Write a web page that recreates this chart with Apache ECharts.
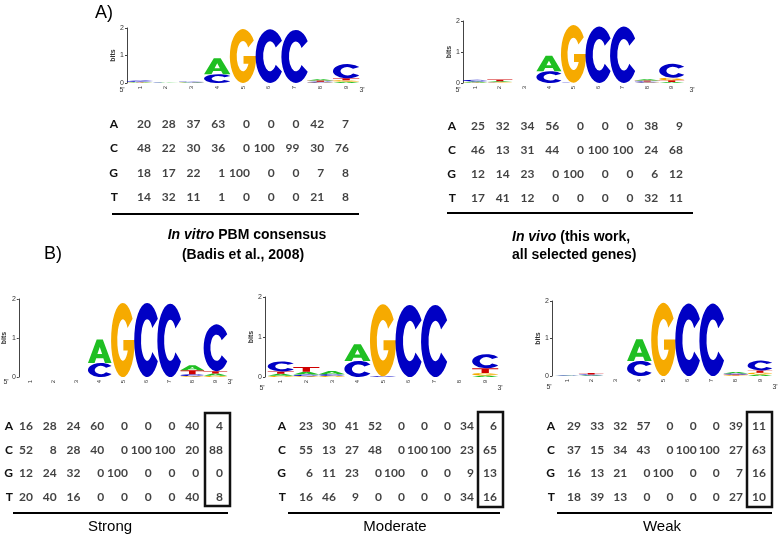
<!DOCTYPE html>
<html>
<head>
<meta charset="utf-8">
<style>
    html, body { margin: 0; padding: 0; background: #fff; }
    #chart { width: 779px; height: 535px; }
</style>
<script src="https://cdn.jsdelivr.net/npm/echarts@6/dist/echarts.min.js"></script>
</head>
<body>
<div id="chart"></div>
<script>
// motif positions and bases (rows of every table)
const positions = ['1', '2', '3', '4', '5', '6', '7', '8', '9'];
const bases = ['A', 'C', 'G', 'T'];

// base frequencies (%), rows A, C, G, T
const vitroTable = [
    [20, 28, 37, 63, 0, 0, 0, 42, 7],
    [48, 22, 30, 36, 0, 100, 99, 30, 76],
    [18, 17, 22, 1, 100, 0, 0, 7, 8],
    [14, 32, 11, 1, 0, 0, 0, 21, 8]
];
const vivoTable = [
    [25, 32, 34, 56, 0, 0, 0, 38, 9],
    [46, 13, 31, 44, 0, 100, 100, 24, 68],
    [12, 14, 23, 0, 100, 0, 0, 6, 12],
    [17, 41, 12, 0, 0, 0, 0, 32, 11]
];
const strongTable = [
    [16, 28, 24, 60, 0, 0, 0, 40, 4],
    [52, 8, 28, 40, 0, 100, 100, 20, 88],
    [12, 24, 32, 0, 100, 0, 0, 0, 0],
    [20, 40, 16, 0, 0, 0, 0, 40, 8]
];
const moderateTable = [
    [23, 30, 41, 52, 0, 0, 0, 34, 6],
    [55, 13, 27, 48, 0, 100, 100, 23, 65],
    [6, 11, 23, 0, 100, 0, 0, 9, 13],
    [16, 46, 9, 0, 0, 0, 0, 34, 16]
];
const weakTable = [
    [29, 33, 32, 57, 0, 0, 0, 39, 11],
    [37, 15, 34, 43, 0, 100, 100, 27, 63],
    [16, 13, 21, 0, 100, 0, 0, 7, 16],
    [18, 39, 13, 0, 0, 0, 0, 27, 10]
];

const vitroBits = [
    [0.02, 0.01, 0.02, 0.58, 0, 0, 0, 0.05, 0.05],
    [0.05, 0.01, 0.02, 0.32, 0, 1.95, 1.93, 0.03, 0.52],
    [0.01, 0, 0.01, 0, 1.96, 0, 0, 0.02, 0.05],
    [0.01, 0, 0, 0, 0, 0, 0, 0.04, 0.07]
];
const vivoBits = [
    [0.03, 0.03, 0, 0.5, 0, 0, 0, 0.04, 0.03],
    [0.05, 0.01, 0, 0.38, 0.01, 1.82, 1.82, 0.03, 0.45],
    [0.01, 0.02, 0, 0, 1.86, 0, 0, 0.02, 0.08],
    [0.01, 0.05, 0, 0, 0, 0, 0, 0.03, 0.06]
];
const strongBits = [
    [0, 0, 0, 0.6, 0, 0, 0, 0.13, 0.06],
    [0, 0, 0, 0.36, 0, 1.9, 1.88, 0.05, 1.2],
    [0, 0, 0, 0, 1.9, 0, 0, 0.02, 0.03],
    [0, 0, 0, 0, 0, 0, 0, 0.1, 0.06]
];
const moderateBits = [
    [0.05, 0.07, 0.08, 0.42, 0, 0, 0, 0, 0.04],
    [0.25, 0.04, 0.04, 0.4, 0.02, 1.8, 1.8, 0, 0.35],
    [0.03, 0.02, 0.03, 0, 1.8, 0, 0, 0, 0.06],
    [0.06, 0.12, 0, 0, 0, 0, 0, 0, 0.12]
];
const weakBits = [
    [0.01, 0.02, 0, 0.58, 0, 0, 0, 0.04, 0.04],
    [0.01, 0.02, 0, 0.4, 0, 1.93, 1.93, 0.03, 0.26],
    [0, 0, 0, 0, 1.95, 0, 0, 0.02, 0.05],
    [0, 0.04, 0, 0, 0, 0, 0, 0.02, 0.06]
];

const COLORS = {A: '#1fbf22', C: '#0000c4', G: '#f6aa00', T: '#d00000'};
// letter outlines in a 100x100 box, stretched to each stack slot
const LETTERS = {
    A: 'M0 100 L37 0 L63 0 L100 100 L72 100 L65 80 L35 80 L28 100 Z M40 62 L60 62 L50 32 Z',
    C: 'M91 21.3 A50 50 0 1 0 91 78.7 L69.7 66.1 A24 28 0 1 1 69.7 33.9 Z',
    G: 'M91 21.3 A50 50 0 1 0 100 50 L52 50 L52 64 L70.8 64 A24 28 0 1 1 69.7 33.9 Z',
    T: 'M0 0 L100 0 L100 22 L64 22 L64 100 L36 100 L36 22 L0 22 Z'
};

// layout of the five panels
const panels = [
    {table: vitroTable, bits: vitroBits,
        logo: {left: 127, top: 28, width: 232, height: 55}, primes: [[122, 90], [362, 90]],
        tab: {left: 151, top: 124, width: 198, height: 73, margin: 33},
        rule: [112, 214, 359]},
    {table: vivoTable, bits: vivoBits,
        logo: {left: 463, top: 21, width: 221, height: 62}, primes: [[458, 90], [692, 90]],
        tab: {left: 485, top: 126, width: 198, height: 72, margin: 29},
        rule: [447, 213, 693]},
    {table: strongTable, bits: strongBits,
        logo: {left: 12, top: 299, width: 215, height: 78}, primes: [[6, 382], [230, 382]],
        tab: {left: 33, top: 426, width: 190, height: 71, margin: 20},
        rule: [13, 513, 228], box: [205, 413, 25, 93], label: ['Strong', 110]},
    {table: moderateTable, bits: moderateBits,
        logo: {left: 268, top: 297, width: 230, height: 80}, primes: [[262, 388], [500, 388]],
        tab: {left: 313, top: 426, width: 184, height: 71, margin: 27},
        rule: [288, 513, 500], box: [478, 412, 25, 95], label: ['Moderate', 395]},
    {table: weakTable, bits: weakBits,
        logo: {left: 555, top: 301, width: 217, height: 75}, primes: [[549, 387], [775, 387]],
        tab: {left: 581, top: 426, width: 185, height: 71, margin: 26},
        rule: [557, 513, 772], box: [747, 412, 25, 95], label: ['Weak', 662]}
];

function renderLogo(params, api) {
    const idx = api.value(0);
    const stack = bases.map((b, i) => ({b: b, h: api.value(i + 1)}));
    stack.sort((p, q) => p.h - q.h);
    const base = api.coord([idx, 0]);
    const w = api.size([1, 0])[0] * 1.02;
    let sum = 0;
    const children = [];
    stack.forEach(item => {
        if (!(item.h > 0)) {
            return;
        }
        const y0 = api.coord([idx, sum])[1];
        sum += item.h;
        const y1 = api.coord([idx, sum])[1];
        children.push({
            type: 'path',
            shape: {pathData: LETTERS[item.b], x: base[0] - w / 2, y: y1, width: w, height: Math.max(y0 - y1, 0.2), layout: 'cover'},
            style: {fill: COLORS[item.b]}
        });
    });
    return {type: 'group', children: children};
}

const grid = [];
const xAxis = [];
const yAxis = [];
const series = [];
const graphic = [];
const small = {fontFamily: 'Liberation Sans', fontSize: 7, color: '#333'};

panels.forEach((p, k) => {
    // logo
    grid.push(Object.assign({}, p.logo));
    xAxis.push({
        gridIndex: 2 * k, type: 'category', data: positions,
        axisLine: {show: false}, axisTick: {show: false},
        axisLabel: {rotate: 90, margin: 3, fontSize: 6, fontFamily: 'Liberation Sans', color: '#333'}
    });
    yAxis.push({
        gridIndex: 2 * k, type: 'value', min: 0, max: 2, interval: 1, offset: k >= 3 ? 3 : 0,
        name: 'bits', nameLocation: 'middle', nameGap: 9,
        nameTextStyle: {fontFamily: 'Liberation Sans', fontSize: 7, fontWeight: 'bold', color: '#333'},
        axisLine: {show: true, lineStyle: {color: '#444', width: 1}},
        axisTick: {show: true, length: 2, lineStyle: {color: '#444'}},
        axisLabel: Object.assign({margin: 3}, small),
        splitLine: {show: false}
    });
    series.push({
        type: 'custom', xAxisIndex: 2 * k, yAxisIndex: 2 * k,
        renderItem: renderLogo, encode: {x: 0, y: 1},
        data: positions.map((pos, j) => [j, p.bits[0][j], p.bits[1][j], p.bits[2][j], p.bits[3][j]])
    });

    // table
    grid.push({left: p.tab.left, top: p.tab.top, width: p.tab.width, height: p.tab.height});
    xAxis.push({gridIndex: 2 * k + 1, type: 'category', data: positions, boundaryGap: false, show: false});
    yAxis.push({
        gridIndex: 2 * k + 1, type: 'category', data: bases, inverse: true, boundaryGap: false,
        axisLine: {show: false}, axisTick: {show: false}, splitLine: {show: false},
        axisLabel: {margin: p.tab.margin, fontFamily: 'Lato', fontWeight: 'bold', fontSize: 12, color: '#111'}
    });
    const cells = [];
    p.table.forEach((row, r) => row.forEach((v, c) => cells.push([c, r, v])));
    series.push({
        type: 'scatter', xAxisIndex: 2 * k + 1, yAxisIndex: 2 * k + 1,
        symbolSize: 1, itemStyle: {color: 'rgba(0,0,0,0)'},
        label: {
            show: true, position: 'inside', align: 'right', verticalAlign: 'middle',
            fontFamily: 'Lato', fontWeight: 'bold', fontSize: 12, color: '#111',
            formatter: d => String(d.value[2])
        },
        data: cells
    });

    // rule, box, labels
    graphic.push({type: 'line', shape: {x1: p.rule[0], y1: p.rule[1], x2: p.rule[2], y2: p.rule[1]}, style: {stroke: '#000', lineWidth: 2}});
    if (p.box) {
        graphic.push({type: 'rect', shape: {x: p.box[0], y: p.box[1], width: p.box[2], height: p.box[3]}, style: {fill: 'none', stroke: '#111', lineWidth: 2.5}});
    }
    if (p.label) {
        graphic.push({type: 'text', style: {text: p.label[0], x: p.label[1], y: 527, align: 'center', verticalAlign: 'middle', fontFamily: 'Liberation Sans', fontSize: 15, fill: '#000'}});
    }
    p.primes.forEach((xy, i) => {
        graphic.push({type: 'text', style: {text: i === 0 ? "5'" : "3'", x: xy[0], y: xy[1], align: 'center', verticalAlign: 'middle', fontFamily: 'Liberation Sans', fontSize: 7, fill: '#333'}});
    });
});

const capRich = {
    i: {fontFamily: 'Liberation Sans', fontSize: 14, fontWeight: 'bold', fontStyle: 'italic', lineHeight: 19},
    b: {fontFamily: 'Liberation Sans', fontSize: 14, fontWeight: 'bold', lineHeight: 19}
};
graphic.push(
    {type: 'text', style: {text: '{i|In vitro}{b| PBM consensus}', x: 247, y: 235, align: 'center', verticalAlign: 'middle', rich: capRich}},
    {type: 'text', style: {text: '{b|(Badis et al., 2008)}', x: 243, y: 255, align: 'center', verticalAlign: 'middle', rich: capRich}},
    {type: 'text', style: {text: '{i|In vivo}{b| (this work,}', x: 512, y: 237, align: 'left', verticalAlign: 'middle', rich: capRich}},
    {type: 'text', style: {text: '{b|all selected genes)}', x: 512, y: 255, align: 'left', verticalAlign: 'middle', rich: capRich}},
    {type: 'text', style: {text: 'A)', x: 95, y: 13, verticalAlign: 'middle', fontFamily: 'Liberation Sans', fontSize: 18, fill: '#000'}},
    {type: 'text', style: {text: 'B)', x: 44, y: 254, verticalAlign: 'middle', fontFamily: 'Liberation Sans', fontSize: 18, fill: '#000'}}
);

const chart = echarts.init(document.getElementById('chart'));
chart.setOption({
    animation: false,
    backgroundColor: '#fff',
    grid: grid,
    xAxis: xAxis,
    yAxis: yAxis,
    series: series,
    graphic: graphic
});
</script>
</body>
</html>
